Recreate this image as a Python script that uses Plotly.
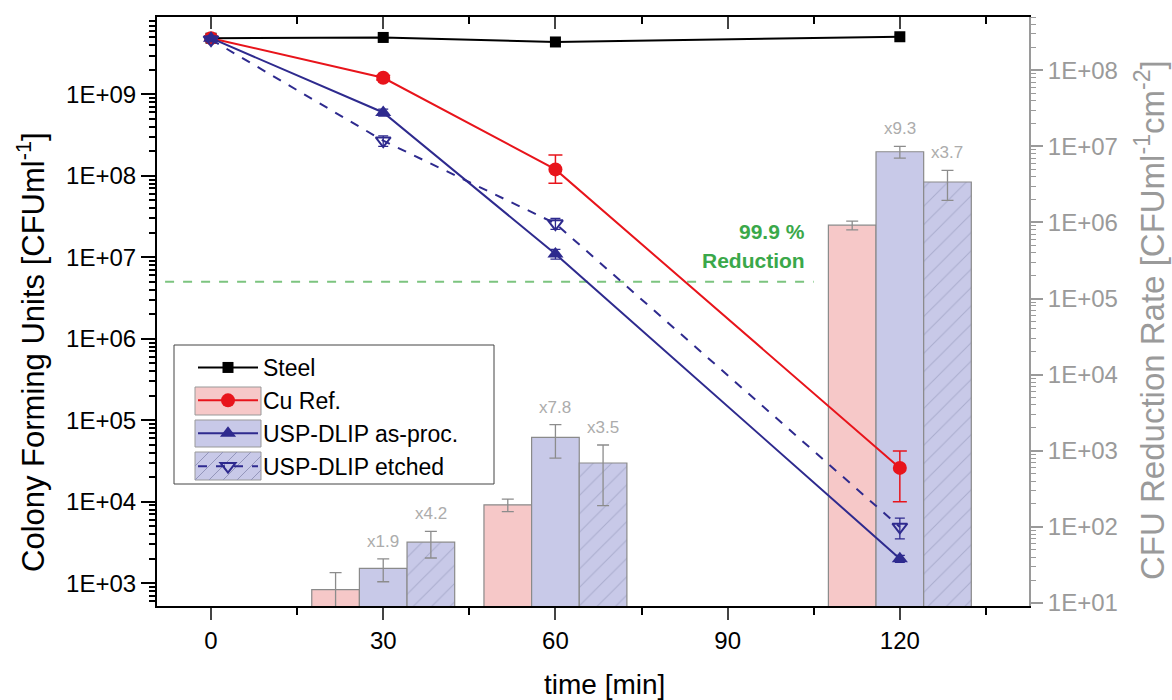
import plotly.graph_objects as go
import numpy as np

# ---------------- data ----------------
times = [0, 30, 60, 120]
steel = [4.9e9, 5.0e9, 4.4e9, 5.1e9]
steel_err = [3.0e8, 3.0e8, 3.0e8, 3.0e8]
cu = [4.9e9, 1.6e9, 1.2e8, 2.6e4]
cu_err_plus = [3.0e8, 1.0e8, 6.0e7, 1.6e4]
cu_err_minus = [3.0e8, 1.0e8, 3.9e7, 1.6e4]
asproc = [4.9e9, 6.0e8, 1.1e7, 2.0e3]
asproc_err = [3.0e8, 6.0e7, 1.5e6, 2.0e2]
etched = [4.7e9, 2.7e8, 2.6e7, 4.9e3]
etched_err = [3.0e8, 4.0e7, 4.0e6, 1.4e3]

threshold_x = [-8, 105]
threshold_y = [5e6, 5e6]
threshold_text = ["99.9 %", "Reduction"]

bar_times = [30, 60, 120]
cu_rate = [15, 195, 9.2e5]
cu_rate_err = [10, 36, 1.2e5]
asproc_rate = [28.5, 1500, 8.5e6]
asproc_rate_err = [9.5, 700, 1.5e6]
etched_rate = [63, 690, 3.4e6]
etched_rate_err = [24, 500, 1.45e6]
asproc_factor = ["x1.9", "x7.8", "x9.3"]
etched_factor = ["x4.2", "x3.5", "x3.7"]

x_ticks = [0, 30, 60, 90, 120]
x_minor = [15, 45, 75, 105, 135]
left_tickvals = [1e3, 1e4, 1e5, 1e6, 1e7, 1e8, 1e9]
left_ticktext = ["1E+03", "1E+04", "1E+05", "1E+06", "1E+07", "1E+08", "1E+09"]
right_tickvals = [1e1, 1e2, 1e3, 1e4, 1e5, 1e6, 1e7, 1e8]
right_ticktext = ["1E+01", "1E+02", "1E+03", "1E+04", "1E+05", "1E+06", "1E+07", "1E+08"]

# ---------------- style ----------------
FONT = "Liberation Sans, Arial, sans-serif"
RED = "#e8141b"
NAVY = "#2e2a8e"
PINK = "#f6c8c8"
LAV = "#c8c9e8"
GRAY = "#9a9a9a"
GREEN = "#3aa84a"
BARGAP = 0.17

W, H = 1172, 700
L, R, T, B = 157, 143, 17, 94
PW, PH = W - L - R, H - T - B


def px2paper(x, y):
    return (x - L) / PW, (H - B - y) / PH


fig = go.Figure()

# bars on primary y (right side) so that lines on overlay are drawn on top
bar_line = dict(color="#8a8a8a", width=1.2)
err_style = dict(color="#8c8c8c", thickness=1.3, width=6)
fig.add_trace(go.Bar(x=bar_times, y=cu_rate, marker=dict(color=PINK, line=bar_line),
                     error_y=dict(type="data", array=cu_rate_err, **err_style),
                     showlegend=False, yaxis="y", xaxis="x"))
fig.add_trace(go.Bar(x=bar_times, y=asproc_rate, marker=dict(color=LAV, line=bar_line),
                     error_y=dict(type="data", array=asproc_rate_err, **err_style),
                     showlegend=False, yaxis="y", xaxis="x"))
fig.add_trace(go.Bar(x=bar_times, y=etched_rate,
                     marker=dict(color=LAV, line=bar_line,
                                 pattern=dict(shape="/", fgcolor="#8d8fb4", size=13,
                                              solidity=0.08, fillmode="overlay")),
                     error_y=dict(type="data", array=etched_rate_err, **err_style),
                     showlegend=False, yaxis="y", xaxis="x"))

# invisible helper so the top (mirror) axis is drawn
fig.add_trace(go.Scatter(x=[times[1]], y=[cu_rate[0]], mode="markers", marker=dict(opacity=0),
                         xaxis="x2", yaxis="y", showlegend=False, hoverinfo="skip"))

# threshold line
fig.add_trace(go.Scatter(x=threshold_x, y=threshold_y, mode="lines",
                         line=dict(color="#7cc47f", width=2, dash="dash"),
                         showlegend=False, yaxis="y2", hoverinfo="skip"))

# lines
fig.add_trace(go.Scatter(x=times, y=steel, name="Steel", mode="lines+markers",
                         line=dict(color="black", width=2),
                         marker=dict(symbol="square", size=11, color="black"),
                         error_y=dict(type="data", array=steel_err, color="black", thickness=1.3, width=5),
                         yaxis="y2"))
fig.add_trace(go.Scatter(x=times, y=cu, name="Cu Ref.", mode="lines+markers",
                         line=dict(color=RED, width=2),
                         marker=dict(symbol="circle", size=14, color=RED),
                         error_y=dict(type="data", array=cu_err_plus, arrayminus=cu_err_minus,
                                      color=RED, thickness=1.5, width=7),
                         yaxis="y2"))
fig.add_trace(go.Scatter(x=times, y=asproc, name="USP-DLIP as-proc.", mode="lines+markers",
                         line=dict(color=NAVY, width=2),
                         marker=dict(symbol="triangle-up", size=14, color=NAVY),
                         error_y=dict(type="data", array=asproc_err, color=NAVY, thickness=1.3, width=5),
                         yaxis="y2"))
fig.add_trace(go.Scatter(x=times, y=etched, name="USP-DLIP etched", mode="lines+markers",
                         line=dict(color=NAVY, width=2, dash="dash"),
                         marker=dict(symbol="triangle-down-open", size=13, color=NAVY,
                                     line=dict(width=2)),
                         error_y=dict(type="data", array=etched_err, color=NAVY, thickness=1.3, width=5),
                         yaxis="y2"))

# ---------------- annotations ----------------
annotations = []
bw = 30 * (1 - BARGAP) / 3
for t, v, e, lab in zip(bar_times, asproc_rate, asproc_rate_err, asproc_factor):
    annotations.append(dict(x=t, y=np.log10(v + e), xref="x", yref="y", text=lab,
                            showarrow=False, xanchor="center", yanchor="bottom", yshift=6,
                            font=dict(size=17, color="#acacac", family=FONT)))
for t, v, e, lab in zip(bar_times, etched_rate, etched_rate_err, etched_factor):
    annotations.append(dict(x=t + bw, y=np.log10(v + e), xref="x", yref="y", text=lab,
                            showarrow=False, xanchor="center", yanchor="bottom", yshift=6,
                            font=dict(size=17, color="#acacac", family=FONT)))

for i, txt in enumerate(reversed(threshold_text)):
    annotations.append(dict(x=threshold_x[1], y=np.log10(threshold_y[1]), xref="x", yref="y2",
                            text=f"<b>{txt}</b>", xanchor="right", yanchor="bottom",
                            xshift=-7, yshift=8 + 29 * i,
                            showarrow=False, font=dict(size=21, color=GREEN, family=FONT)))

ax, ay = px2paper(31, 352)
annotations.append(dict(x=ax, y=ay, xref="paper", yref="paper", xanchor="center", yanchor="middle",
                        text="Colony Forming Units [CFUml<sup>-1</sup>]", textangle=-90,
                        showarrow=False, font=dict(size=31, color="black", family=FONT)))
ax, ay = px2paper(1150, 320)
annotations.append(dict(x=ax, y=ay, xref="paper", yref="paper", xanchor="center", yanchor="middle",
                        text="CFU Reduction Rate [CFUml<sup>-1</sup>cm<sup>-2</sup>]", textangle=-90,
                        showarrow=False, font=dict(size=33, color=GRAY, family=FONT)))
ax, ay = px2paper(604, 684)
annotations.append(dict(x=ax, y=ay, xref="paper", yref="paper", xanchor="center", yanchor="middle",
                        text="time [min]", showarrow=False,
                        font=dict(size=28, color="black", family=FONT)))

# ---------------- legend frame and swatch backgrounds ----------------
shapes = []
def rect(x0, y0, x1, y1, color, lc="#999999"):
    a0, b0 = px2paper(x0, y1)
    a1, b1 = px2paper(x1, y0)
    return dict(type="rect", xref="paper", yref="paper", x0=a0, y0=b0, x1=a1, y1=b1,
                fillcolor=color, line=dict(color=lc, width=1), layer="above")

shapes.append(rect(174, 345, 494, 484, "white", "#444444"))
shapes.append(rect(195, 387, 261, 415, PINK))
shapes.append(rect(195, 420, 261, 447, LAV))
shapes.append(rect(195, 452, 261, 480, LAV))
# hatch on last swatch
segs = []
top, bot = 452, 480
hgt = bot - top
for k in range(-3, 7):
    x0, y0 = 195 + k * 14, bot
    x1, y1 = x0 + hgt, top
    if x0 < 195:
        y0 = bot - (195 - x0)
        x0 = 195
    if x1 > 261:
        y1 = top + (x1 - 261)
        x1 = 261
    if x0 >= x1:
        continue
    a0, b0 = px2paper(x0, y0)
    a1, b1 = px2paper(x1, y1)
    segs.append(f"M{a0:.5f},{b0:.5f} L{a1:.5f},{b1:.5f}")
shapes.append(dict(type="path", xref="paper", yref="paper", path=" ".join(segs),
                   line=dict(color="#9496bb", width=1), layer="above"))

lx, ly = px2paper(193, 346)

minor_left = [k * 10.0 ** n for n in range(2, 10) for k in range(2, 10)]
minor_right = [k * 10.0 ** n for n in range(0, 9) for k in range(2, 10)]

fig.update_layout(
    width=W, height=H,
    margin=dict(l=L, r=R, t=T, b=B),
    paper_bgcolor="white", plot_bgcolor="white",
    font=dict(family=FONT, size=22, color="black"),
    barmode="group", bargap=BARGAP, bargroupgap=0,
    showlegend=True,
    legend=dict(x=lx, y=ly, xanchor="left", yanchor="top",
                bgcolor="rgba(0,0,0,0)", borderwidth=0,
                font=dict(size=23, family=FONT, color="black"),
                tracegroupgap=0, itemwidth=60),
    xaxis=dict(range=[-9.41, 142.5], tickvals=x_ticks, ticks="outside", ticklen=12, tickwidth=2,
               showline=True, linecolor="black", linewidth=2, showgrid=False, zeroline=False,
               tickfont=dict(size=24),
               minor=dict(tickvals=x_minor, ticks="outside", ticklen=7, tickwidth=2, tickcolor="black")),
    xaxis2=dict(range=[-9.41, 142.5], overlaying="x", side="top", anchor="y", tickvals=x_ticks,
                ticks="inside", ticklen=12, tickwidth=2, showticklabels=False, showline=True,
                linecolor="black", linewidth=2, showgrid=False, zeroline=False,
                minor=dict(tickvals=x_minor, ticks="inside", ticklen=7, tickwidth=2, tickcolor="black")),
    yaxis=dict(type="log", range=[0.96, 8.7], side="right", tickvals=right_tickvals,
               ticktext=right_ticktext, ticks="outside", ticklen=12, tickwidth=1.5, tickcolor=GRAY,
               showline=True, linecolor=GRAY, linewidth=2, showgrid=False, zeroline=False,
               tickfont=dict(size=24, color=GRAY),
               minor=dict(tickvals=minor_right, ticks="outside", ticklen=5, tickwidth=1, tickcolor=GRAY)),
    yaxis2=dict(type="log", range=[2.72, 9.95], side="left", overlaying="y", anchor="x",
                tickvals=left_tickvals, ticktext=left_ticktext, ticks="outside", ticklen=14,
                tickwidth=2, tickcolor="black", showline=True, linecolor="black", linewidth=2,
                showgrid=False, zeroline=False, tickfont=dict(size=24, color="black"),
                minor=dict(tickvals=minor_left, ticks="outside", ticklen=6, tickwidth=1.5, tickcolor="black")),
    annotations=annotations,
    shapes=shapes,
)

fig.write_html("out.html")
